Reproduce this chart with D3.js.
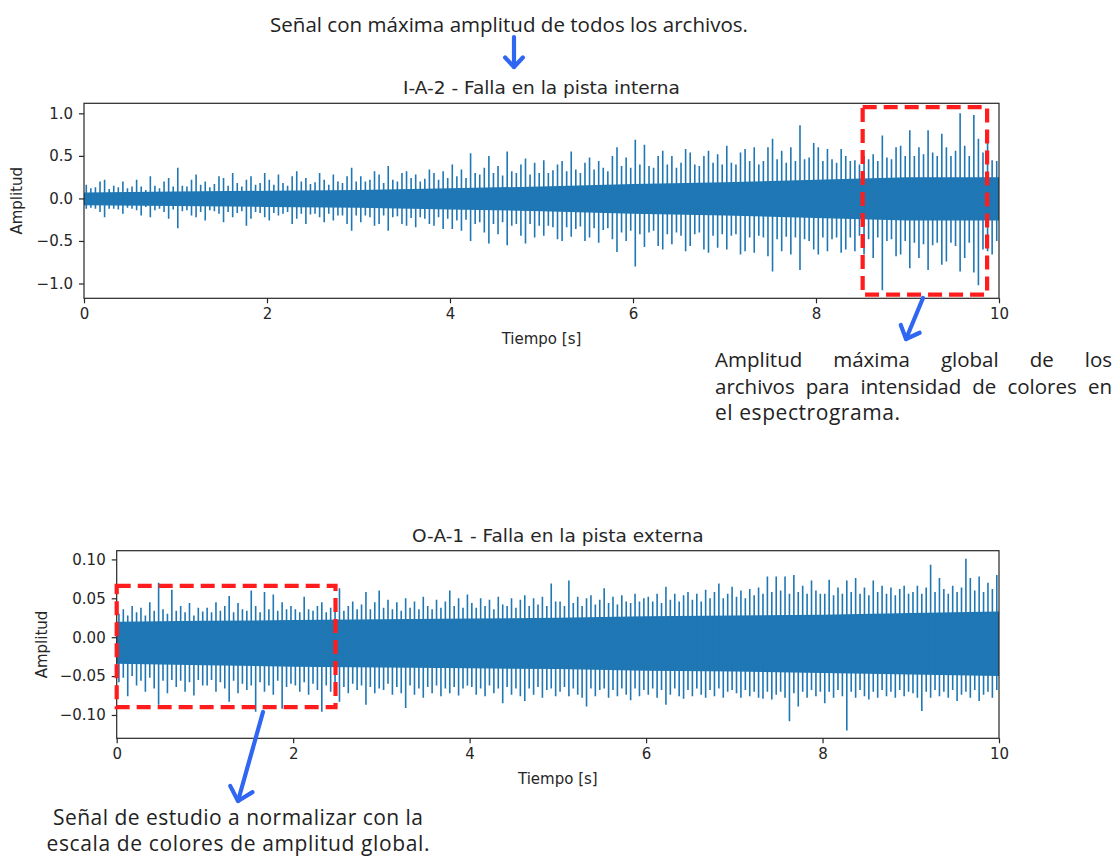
<!DOCTYPE html>
<html><head><meta charset="utf-8">
<script src="https://cdn.jsdelivr.net/npm/d3@7"></script>
<style>body{margin:0;background:#fff}svg{display:block}</style>
</head><body><svg id="c" width="1118" height="857"></svg>
<script>
// ---------- data ----------
const timeTicks = [0, 2, 4, 6, 8, 10];
const ampTicksTop = [-1, -0.5, 0, 0.5, 1];
const ampTicksBottom = [-0.1, -0.05, 0, 0.05, 0.1];

const topTitle = "I-A-2 - Falla en la pista interna";
const bottomTitle = "O-A-1 - Falla en la pista externa";
const xLabel = "Tiempo [s]";
const yLabel = "Amplitud";

// dense core envelope, sampled every second (0..10 s)
const coreTimes = [0, 1, 2, 3, 4, 5, 6, 7, 8, 9, 10];
const topCoreHi = [0.07, 0.08, 0.09, 0.1, 0.12, 0.14, 0.17, 0.19, 0.22, 0.25, 0.25];
const topCoreLo = [-0.08, -0.09, -0.1, -0.11, -0.13, -0.15, -0.18, -0.2, -0.23, -0.26, -0.26];

// signal peaks, one per 0.05 s bin
const topSpikeHi = [
 0.16,0.12,0.13,0.2,0.22,0.11,0.15,0.13,0.2,0.12,0.14,0.22,0.14,0.1,0.26,0.15,0.12,0.2,0.24,0.14,
 0.36,0.15,0.14,0.22,0.28,0.16,0.2,0.13,0.17,0.26,0.24,0.15,0.3,0.18,0.14,0.22,0.26,0.16,0.18,0.3,
 0.22,0.16,0.28,0.18,0.15,0.26,0.32,0.2,0.24,0.17,0.19,0.3,0.22,0.16,0.28,0.2,0.18,0.26,0.36,0.2,
 0.26,0.2,0.22,0.32,0.28,0.18,0.38,0.22,0.2,0.3,0.32,0.24,0.28,0.2,0.23,0.34,0.3,0.22,0.32,0.24,
 0.4,0.26,0.34,0.24,0.53,0.3,0.28,0.36,0.5,0.3,0.38,0.27,0.55,0.32,0.3,0.4,0.47,0.28,0.42,0.3,
 0.45,0.3,0.33,0.4,0.44,0.32,0.55,0.34,0.3,0.42,0.48,0.34,0.44,0.36,0.32,0.5,0.6,0.38,0.48,0.36,
 0.69,0.4,0.63,0.38,0.36,0.5,0.56,0.4,0.5,0.36,0.42,0.58,0.54,0.4,0.38,0.5,0.56,0.42,0.52,0.4,
 0.62,0.42,0.4,0.54,0.58,0.44,0.6,0.4,0.44,0.6,0.7,0.46,0.56,0.42,0.6,0.44,0.86,0.46,0.48,0.65,
 0.6,0.44,0.58,0.46,0.42,0.58,0.5,0.44,0.45,0.4,0.5,0.46,0.52,0.44,0.74,0.48,0.46,0.6,0.62,0.5,
 0.8,0.5,0.6,0.52,0.8,0.54,0.5,0.76,0.6,0.5,0.56,1.0,0.62,0.5,0.98,0.7,0.54,0.7,0.45,0.44];
const topSpikeLo = [
 -0.12,-0.11,-0.12,-0.16,-0.22,-0.12,-0.12,-0.13,-0.18,-0.11,-0.12,-0.14,-0.2,-0.1,-0.22,-0.14,-0.12,-0.16,-0.24,-0.13,
 -0.35,-0.15,-0.14,-0.2,-0.22,-0.16,-0.26,-0.14,-0.15,-0.18,-0.28,-0.16,-0.22,-0.17,-0.15,-0.32,-0.24,-0.16,-0.17,-0.22,
 -0.26,-0.17,-0.2,-0.18,-0.16,-0.3,-0.24,-0.18,-0.3,-0.19,-0.18,-0.22,-0.28,-0.18,-0.26,-0.2,-0.2,-0.3,-0.38,-0.2,
 -0.28,-0.2,-0.22,-0.32,-0.3,-0.2,-0.38,-0.22,-0.21,-0.3,-0.32,-0.23,-0.34,-0.22,-0.24,-0.3,-0.32,-0.22,-0.36,-0.24,
 -0.36,-0.26,-0.38,-0.25,-0.5,-0.3,-0.28,-0.4,-0.53,-0.3,-0.42,-0.28,-0.55,-0.32,-0.3,-0.44,-0.53,-0.3,-0.46,-0.32,
 -0.44,-0.32,-0.34,-0.48,-0.5,-0.34,-0.45,-0.36,-0.33,-0.5,-0.46,-0.35,-0.52,-0.37,-0.35,-0.48,-0.63,-0.4,-0.5,-0.38,
 -0.8,-0.42,-0.57,-0.4,-0.38,-0.56,-0.6,-0.42,-0.54,-0.4,-0.44,-0.62,-0.56,-0.42,-0.4,-0.6,-0.64,-0.44,-0.58,-0.42,
 -0.6,-0.44,-0.42,-0.66,-0.62,-0.46,-0.64,-0.44,-0.46,-0.68,-0.86,-0.48,-0.62,-0.45,-0.66,-0.46,-0.84,-0.48,-0.5,-0.6,
 -0.66,-0.46,-0.62,-0.48,-0.46,-0.64,-0.6,-0.46,-0.62,-0.44,-0.66,-0.48,-0.7,-0.46,-1.08,-0.5,-0.48,-0.68,-0.66,-0.5,
 -0.82,-0.52,-0.7,-0.54,-0.84,-0.55,-0.52,-0.78,-0.74,-0.52,-0.56,-0.86,-0.7,-0.52,-0.87,-1.02,-0.6,-0.62,-0.66,-0.5];

const botCoreHi = [0.02, 0.021, 0.022, 0.023, 0.024, 0.025, 0.027, 0.028, 0.029, 0.031, 0.033];
const botCoreLo = [-0.034, -0.036, -0.038, -0.039, -0.04, -0.041, -0.043, -0.044, -0.046, -0.048, -0.05];

// signal peaks, one per 0.05 s bin
const botSpikeHi = [
 0.03,0.036,0.028,0.04,0.032,0.038,0.028,0.045,0.034,0.07,0.036,0.03,0.061,0.034,0.04,0.032,0.044,0.028,0.038,0.033,
 0.038,0.032,0.045,0.034,0.04,0.053,0.032,0.044,0.036,0.034,0.06,0.04,0.032,0.058,0.036,0.055,0.034,0.045,0.036,0.04,
 0.036,0.032,0.052,0.036,0.034,0.04,0.045,0.032,0.038,0.044,0.063,0.034,0.04,0.046,0.036,0.042,0.058,0.036,0.045,0.06,
 0.038,0.048,0.036,0.045,0.034,0.05,0.038,0.046,0.036,0.052,0.04,0.036,0.048,0.038,0.046,0.06,0.04,0.05,0.038,0.055,
 0.044,0.038,0.05,0.04,0.048,0.036,0.052,0.042,0.04,0.05,0.038,0.048,0.054,0.04,0.05,0.042,0.052,0.04,0.069,0.046,
 0.046,0.04,0.073,0.044,0.052,0.04,0.05,0.054,0.042,0.048,0.063,0.044,0.052,0.042,0.054,0.046,0.044,0.056,0.046,0.05,
 0.052,0.046,0.056,0.044,0.065,0.048,0.056,0.046,0.054,0.058,0.048,0.056,0.046,0.061,0.05,0.058,0.069,0.05,0.056,0.065,
 0.052,0.06,0.05,0.062,0.054,0.064,0.056,0.078,0.058,0.078,0.06,0.078,0.056,0.08,0.058,0.066,0.056,0.073,0.06,0.056,
 0.056,0.074,0.054,0.064,0.056,0.073,0.058,0.076,0.056,0.064,0.054,0.073,0.058,0.066,0.056,0.064,0.054,0.062,0.066,0.056,
 0.058,0.066,0.056,0.064,0.093,0.058,0.076,0.062,0.056,0.066,0.058,0.064,0.101,0.076,0.06,0.078,0.058,0.07,0.062,0.08];
const botSpikeLo = [
 -0.058,-0.052,-0.076,-0.05,-0.062,-0.056,-0.07,-0.052,-0.066,-0.087,-0.056,-0.072,-0.055,-0.064,-0.056,-0.07,-0.058,-0.075,-0.055,-0.062,
 -0.062,-0.055,-0.07,-0.058,-0.066,-0.083,-0.056,-0.072,-0.06,-0.068,-0.062,-0.096,-0.058,-0.07,-0.062,-0.074,-0.056,-0.092,-0.064,-0.06,
 -0.062,-0.07,-0.058,-0.074,-0.06,-0.068,-0.096,-0.062,-0.07,-0.058,-0.083,-0.064,-0.072,-0.06,-0.068,-0.062,-0.087,-0.064,-0.072,-0.066,
 -0.068,-0.06,-0.074,-0.064,-0.072,-0.091,-0.062,-0.074,-0.066,-0.078,-0.064,-0.072,-0.062,-0.076,-0.066,-0.072,-0.064,-0.075,-0.066,-0.062,
 -0.064,-0.074,-0.066,-0.076,-0.062,-0.072,-0.066,-0.085,-0.064,-0.074,-0.066,-0.076,-0.082,-0.066,-0.074,-0.064,-0.078,-0.068,-0.066,-0.076,
 -0.07,-0.064,-0.076,-0.066,-0.074,-0.078,-0.089,-0.066,-0.076,-0.068,-0.066,-0.078,-0.068,-0.076,-0.066,-0.074,-0.081,-0.066,-0.076,-0.068,
 -0.074,-0.066,-0.078,-0.068,-0.087,-0.074,-0.066,-0.076,-0.079,-0.068,-0.076,-0.066,-0.074,-0.078,-0.068,-0.076,-0.066,-0.078,-0.07,-0.068,
 -0.072,-0.078,-0.068,-0.076,-0.07,-0.078,-0.079,-0.07,-0.08,-0.074,-0.07,-0.078,-0.108,-0.072,-0.089,-0.07,-0.078,-0.068,-0.076,-0.07,
 -0.085,-0.07,-0.078,-0.068,-0.076,-0.12,-0.07,-0.078,-0.068,-0.076,-0.08,-0.07,-0.078,-0.068,-0.076,-0.07,-0.078,-0.068,-0.076,-0.07,
 -0.072,-0.078,-0.095,-0.07,-0.078,-0.068,-0.076,-0.07,-0.078,-0.068,-0.082,-0.074,-0.07,-0.078,-0.068,-0.082,-0.074,-0.07,-0.078,-0.068];

// highlighted regions (time start, time end, amplitude high, amplitude low)
const topBox = [8.51, 9.87, 1.074, -1.13];
const botBox = [0.0, 2.48, 0.066, -0.09];

// annotation texts
const noteTop = "Señal con máxima amplitud de todos los archivos.";
const noteRight = ["Amplitud máxima global de los", "archivos para intensidad de colores en", "el espectrograma."];
const noteBottom = ["Señal de estudio a normalizar con la", "escala de colores de amplitud global."];

// ---------- drawing ----------
const svg = d3.select("#c");
svg.append("rect").attr("width", 1118).attr("height", 857).attr("fill", "#fff");
const LINE = "#1f77b4";
const MPL_FONT = "'DejaVu Sans', sans-serif";
const NOTE_FONT = "'Open Sans', Lato, sans-serif";
const BLUE = "#2f66f2";
const RED = "#ff1c1c";

function panel(o) {
  const x = d3.scaleLinear().domain([0, 10]).range([o.left, o.right]);
  const y = d3.scaleLinear().domain(o.yDomain).range([o.bottom, o.top]);
  const g = svg.append("g");

  const core = coreTimes.map((t, i) => ({t, hi: o.coreHi[i], lo: o.coreLo[i]}));
  g.append("path").datum(core)
    .attr("fill", LINE)
    .attr("d", d3.area().x(d => x(d.t)).y0(d => y(d.lo)).y1(d => y(d.hi)));

  const n = o.spikeHi.length, bw = 10 / n;
  const spikes = o.spikeHi.map((h, i) => ({t: (i + 0.5) * bw, hi: h, lo: o.spikeLo[i]}));
  g.append("path")
    .attr("fill", "none").attr("stroke", LINE).attr("stroke-width", o.sw)
    .attr("d", spikes.map(d => `M${x(d.t)},${y(d.hi)}V${y(d.lo)}`).join(""));

  // frame
  g.append("rect").attr("x", o.left).attr("y", o.top)
    .attr("width", o.right - o.left).attr("height", o.bottom - o.top)
    .attr("fill", "none").attr("stroke", "#262626").attr("stroke-width", 1.2);

  const ax = g.append("g").attr("transform", `translate(0,${o.bottom})`)
    .call(d3.axisBottom(x).tickValues(timeTicks).tickFormat(d3.format("d")).tickSize(5).tickPadding(5));
  const ay = g.append("g").attr("transform", `translate(${o.left},0)`)
    .call(d3.axisLeft(y).tickValues(o.yTicks).tickFormat(d3.format(o.fmt)).tickSize(5).tickPadding(6));
  [ax, ay].forEach(a => {
    a.select(".domain").remove();
    a.selectAll("line").attr("stroke", "#262626").attr("stroke-width", 1.2);
    a.selectAll("text").attr("fill", "#262626").style("font-family", MPL_FONT).style("font-size", "15px");
  });

  g.append("text").attr("x", (o.left + o.right) / 2).attr("y", o.top - 9)
    .attr("text-anchor", "middle").attr("fill", "#262626")
    .style("font-family", MPL_FONT).style("font-size", "18.5px").text(o.title);
  g.append("text").attr("x", (o.left + o.right) / 2).attr("y", o.bottom + 46)
    .attr("text-anchor", "middle").attr("fill", "#262626")
    .style("font-family", MPL_FONT).style("font-size", "15px").text(xLabel);
  g.append("text").attr("transform", `translate(${o.ylabX},${(o.top + o.bottom) / 2}) rotate(-90)`)
    .attr("text-anchor", "middle").attr("fill", "#262626")
    .style("font-family", MPL_FONT).style("font-size", "15px").text(yLabel);

  // highlighted region
  const b = o.box;
  g.append("rect").attr("x", x(b[0])).attr("y", y(b[2]))
    .attr("width", x(b[1]) - x(b[0])).attr("height", y(b[3]) - y(b[2]))
    .attr("fill", "none").attr("stroke", RED).attr("stroke-width", 4.2)
    .attr("stroke-dasharray", "14,7");
  return {x, y};
}

panel({left: 84, right: 999, top: 103.3, bottom: 298.3, yDomain: [-1.174, 1.118],
  coreHi: topCoreHi, coreLo: topCoreLo, spikeHi: topSpikeHi, spikeLo: topSpikeLo, sw: 1.6,
  yTicks: ampTicksTop, fmt: ".1f", title: topTitle, ylabX: 22, box: topBox});
panel({left: 116.7, right: 999, top: 550.7, bottom: 738.3, yDomain: [-0.130, 0.1112],
  coreHi: botCoreHi, coreLo: botCoreLo, spikeHi: botSpikeHi, spikeLo: botSpikeLo, sw: 1.6,
  yTicks: ampTicksBottom, fmt: ".2f", title: bottomTitle, ylabX: 47, box: botBox});

// ---------- annotations ----------
function arrow(x1, y1, x2, y2, head) {
  const a = Math.atan2(y2 - y1, x2 - x1);
  const g = svg.append("g").attr("stroke", BLUE).attr("stroke-width", 4.2)
    .attr("stroke-linecap", "round").attr("stroke-linejoin", "round").attr("fill", "none");
  g.append("line").attr("x1", x1).attr("y1", y1).attr("x2", x2).attr("y2", y2);
  const p = s => [x2 - head * Math.cos(a + s), y2 - head * Math.sin(a + s)];
  const l = p(0.75), r = p(-0.75);
  g.append("path").attr("d", `M${l[0]},${l[1]}L${x2},${y2}L${r[0]},${r[1]}`);
}
arrow(514, 37, 514, 67, 13);
arrow(923, 298, 906, 339, 15);
arrow(263, 712, 238, 801, 17);

function note(txt, x, y, width, anchor, size) {
  const t = svg.append("text").attr("x", x).attr("y", y).attr("text-anchor", anchor || "start")
    .attr("fill", "#222").style("font-family", NOTE_FONT).style("font-size", (size || 21) + "px").text(txt);
  if (width) t.attr("textLength", width).attr("lengthAdjust", "spacing");
  return t;
}
function justified(txt, x0, x1, y) {
  const words = txt.split(" ");
  const g = svg.append("g").style("font-family", NOTE_FONT).style("font-size", "20.5px").attr("fill", "#222");
  const nodes = words.map(w => g.append("text").attr("y", y).text(w));
  const ws = nodes.map(nd => nd.node().getComputedTextLength());
  const gap = (x1 - x0 - d3.sum(ws)) / (words.length - 1);
  let cx = x0;
  nodes.forEach((nd, i) => { nd.attr("x", cx); cx += ws[i] + gap; });
}
note(noteTop, 270, 32, 478, "start", 20.5);
justified(noteRight[0], 715, 1112, 367);
justified(noteRight[1], 715, 1112, 393.5);
note(noteRight[2], 715, 420, 185, "start", 21);
note(noteBottom[0], 238, 824.5, 370, "middle", 21);
note(noteBottom[1], 238, 851, 383, "middle", 21);
</script></body></html>
